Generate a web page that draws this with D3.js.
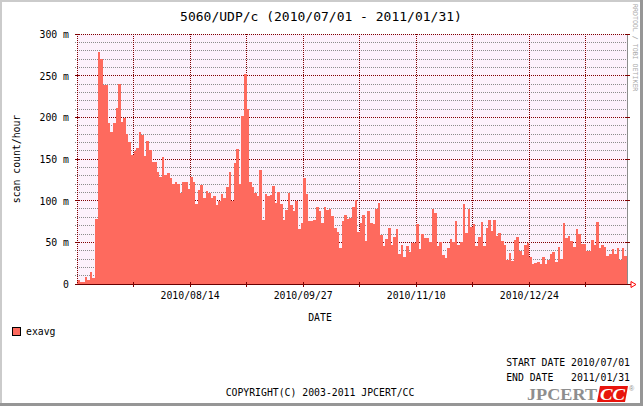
<!DOCTYPE html>
<html lang="en">
<head>
<meta charset="utf-8">
<script src="https://d3js.org/d3.v7.min.js"></script>
<style>
  body { margin: 0; background: #fff; }
  text { font-family: "DejaVu Sans Mono", monospace; fill: #000; }
</style>
</head>
<body>
<div id="chart"></div>
<script>

// daily averages, 2010/07/01 .. 2011/01/30 (scan count/hour, in milli)
const values = [
  5.2, 2, 2, 8.8, 4.4, 14.8, 6.8, 78.4, 279, 270,
  239, 239, 193.6, 183, 193.6, 211.6, 240, 195, 199.6, 179.6,
  170.4, 155, 159.6, 163, 183, 178.4, 154, 171.6, 161, 147,
  147, 135, 129, 152, 131, 133.6, 127.6, 120, 122.8, 120.4,
  108.8, 122.8, 122.4, 114, 128.4, 122.4, 96, 112.8, 118.8, 103.2,
  111.6, 109.2, 103.2, 105.6, 94.8, 99.2, 108, 103.2, 116.4, 134.4,
  99.2, 145.2, 162, 120, 201.6, 252, 210, 122.4, 116.4, 109.2,
  105.6, 136.8, 76.8, 108, 105.6, 106.8, 117.6, 97.2, 110.4, 96,
  76.8, 88.8, 109.2, 94.8, 88, 99.2, 66, 73.2, 127.6, 108.4,
  76, 76, 77.2, 92.8, 88, 73.6, 92.8, 89.2, 90.4, 82,
  67.6, 62.8, 43.6, 76, 83.2, 78.4, 79.6, 92.8, 101.2, 62.8,
  73.6, 83.2, 52, 88, 73.6, 72.4, 90.4, 97.6, 59.2, 46,
  54.4, 67.6, 47.2, 56.8, 66.4, 36.4, 47.2, 32.8, 46, 38.8,
  49.6, 49.6, 72.4, 42.4, 60, 55.6, 55.6, 50.8, 90.4, 85.6,
  46, 50.8, 35.2, 31.6, 43.6, 54.4, 50.8, 76, 47.2, 50.8,
  96.4, 61.6, 90.4, 68.8, 72.4, 46, 56.8, 74.8, 46, 67.6,
  77.2, 64, 77.2, 58, 61.6, 52, 47.2, 29.2, 37.6, 28,
  53.2, 56.8, 40, 35.2, 47.2, 49.6, 32.8, 24.4, 25.6, 26.8,
  24.4, 32.8, 24.4, 29.2, 36.4, 38.8, 26.8, 44.8, 30.4, 73.6,
  55.6, 58, 52, 44.8, 66.4, 60.4, 48.4, 48.4, 40, 40,
  53.2, 47.2, 74.8, 43.6, 47.2, 44.8, 34, 36.4, 42.4, 36.4,
  43.6, 29.2, 43.6, 34
];

const startDate = "2010-07-01";
const endDate = "2011-01-31";

// vertical grid every 22 days, labels on every second one
const xGridDates = ["2010-07-23", "2010-08-14", "2010-09-05", "2010-09-27", "2010-10-19",
                    "2010-11-10", "2010-12-02", "2010-12-24", "2011-01-15"];
const xLabelDates = ["2010-08-14", "2010-09-27", "2010-11-10", "2010-12-24"];
const xLabels = ["2010/08/14", "2010/09/27", "2010/11/10", "2010/12/24"];

const yMajor = [0, 50, 100, 150, 200, 250, 300];
const yLabels = ["0", "50 m", "100 m", "150 m", "200 m", "250 m", "300 m"];
const yMinor = d3.range(10, 300, 10).filter(v => v % 50 !== 0);

const W = 643, H = 406;
const plot = {left: 77, right: 627, top: 34, bottom: 284};
const barColor = "#fe6a5e";
const darkRed = "#800000";

const parse = d3.utcParse("%Y-%m-%d");
const t0 = parse(startDate), t1 = parse(endDate);

const x = d3.scaleUtc().domain([t0, t1]).range([plot.left, plot.right]);
const y = d3.scaleLinear().domain([0, 300]).range([plot.bottom, plot.top]);
const px = v => Math.floor(v) + 0.5;

const svg = d3.select("#chart").append("svg")
    .attr("width", W).attr("height", H)
    .attr("viewBox", `0 0 ${W} ${H}`);

// frame
svg.append("rect").attr("width", W).attr("height", H).attr("fill", "#fff");
svg.append("rect").attr("x", 0).attr("y", 0).attr("width", W).attr("height", 2).attr("fill", "#cbcbcb");
svg.append("rect").attr("x", 0).attr("y", 0).attr("width", 2).attr("height", H).attr("fill", "#cbcbcb");
svg.append("rect").attr("x", W - 3).attr("y", 0).attr("width", 3).attr("height", H).attr("fill", "#969696");
svg.append("rect").attr("x", 0).attr("y", H - 3).attr("width", W).attr("height", 3).attr("fill", "#969696");

// canvas
svg.append("rect")
    .attr("x", plot.left).attr("y", plot.top)
    .attr("width", plot.right - plot.left).attr("height", plot.bottom - plot.top)
    .attr("fill", "#fdf1fc");

const grid = svg.append("g").attr("shape-rendering", "crispEdges");

// minor horizontal grid
grid.selectAll(".minor").data(yMinor).enter().append("line")
    .attr("x1", plot.left - 2).attr("x2", plot.right + 2)
    .attr("y1", d => px(y(d))).attr("y2", d => px(y(d)))
    .attr("stroke", "#8c8c8c").attr("stroke-dasharray", "1,1");

// major horizontal grid
grid.selectAll(".major").data(yMajor.filter(v => v > 0)).enter().append("line")
    .attr("x1", plot.left - 2).attr("x2", plot.right + 3)
    .attr("y1", d => px(y(d))).attr("y2", d => px(y(d)))
    .attr("stroke", darkRed).attr("stroke-dasharray", "1,1");

// vertical grid
grid.selectAll(".vgrid").data(xGridDates.map(parse)).enter().append("line")
    .attr("x1", d => px(x(d))).attr("x2", d => px(x(d)))
    .attr("y1", plot.top).attr("y2", plot.bottom)
    .attr("stroke", darkRed).attr("stroke-dasharray", "1,1");

// the data, drawn as an rrd style step area
const pts = values.map((v, i) => ({t: d3.utcDay.offset(t0, i), v: v}));
pts.push({t: d3.utcDay.offset(t0, values.length), v: values[values.length - 1]});

svg.append("path")
    .datum(pts)
    .attr("fill", barColor)
    .attr("shape-rendering", "crispEdges")
    .attr("d", d3.area()
        .curve(d3.curveStepAfter)
        .x(d => x(d.t))
        .y0(px(y(0)))
        .y1(d => y(d.v)));

// axes and frame lines
const ax = svg.append("g").attr("shape-rendering", "crispEdges");
ax.append("line")
    .attr("x1", px(plot.left)).attr("x2", px(plot.left))
    .attr("y1", plot.top).attr("y2", plot.bottom)
    .attr("stroke", darkRed).attr("stroke-dasharray", "1,1");
ax.append("line")
    .attr("x1", px(plot.right)).attr("x2", px(plot.right))
    .attr("y1", plot.top).attr("y2", plot.bottom + 1)
    .attr("stroke", "#8c8c8c");
ax.selectAll(".ytick").data(yMajor).enter().append("line")
    .attr("x1", plot.left - 2).attr("x2", plot.left + 3)
    .attr("y1", d => px(y(d))).attr("y2", d => px(y(d)))
    .attr("stroke", darkRed);
ax.selectAll(".ytickr").data(yMajor.filter(v => v > 0)).enter().append("line")
    .attr("x1", plot.right - 2).attr("x2", plot.right + 3)
    .attr("y1", d => px(y(d))).attr("y2", d => px(y(d)))
    .attr("stroke", darkRed);
ax.append("line")
    .attr("x1", plot.left - 2).attr("x2", plot.right + 4)
    .attr("y1", px(y(0))).attr("y2", px(y(0)))
    .attr("stroke", "#6a0000");
ax.selectAll(".xtick").data(xGridDates.map(parse)).enter().append("line")
    .attr("x1", d => px(x(d))).attr("x2", d => px(x(d)))
    .attr("y1", plot.bottom - 2).attr("y2", plot.bottom + 3)
    .attr("stroke", darkRed);

// arrow at the end of the time axis
svg.append("path")
    .attr("d", `M${plot.right + 4},${px(y(0)) - 3} L${plot.right + 9},${px(y(0))} L${plot.right + 4},${px(y(0)) + 3} Z`)
    .attr("fill", "none").attr("stroke", "#ff0000").attr("stroke-width", 1);

// y labels
svg.selectAll(".ylab").data(yMajor).enter().append("text")
    .attr("x", 69).attr("y", d => y(d) + 4)
    .attr("text-anchor", "end")
    .style("font-size", "9.8px")
    .text((d, i) => yLabels[i]);

// x labels
svg.selectAll(".xlab").data(xLabelDates.map(parse)).enter().append("text")
    .attr("x", d => x(d)).attr("y", 299)
    .attr("text-anchor", "middle")
    .style("font-size", "9.8px")
    .text((d, i) => xLabels[i]);

// titles
svg.append("text").attr("x", 321).attr("y", 21).attr("text-anchor", "middle")
    .style("font-size", "13px")
    .text("5060/UDP/c (2010/07/01 - 2011/01/31)");
svg.append("text").attr("transform", "translate(20,159) rotate(-90)")
    .attr("text-anchor", "middle").style("font-size", "9.8px")
    .text("scan count/hour");
svg.append("text").attr("x", 320).attr("y", 321).attr("text-anchor", "middle")
    .style("font-size", "9.8px").text("DATE");
svg.append("text").attr("transform", "translate(633,4) rotate(90)")
    .style("font-size", "6.6px").style("fill", "#a8a8a8")
    .text("RRDTOOL / TOBI OETIKER");

// legend
svg.append("rect").attr("x", 12.5).attr("y", 327.5).attr("width", 8).attr("height", 8)
    .attr("fill", barColor).attr("stroke", "#000");
svg.append("text").attr("x", 26).attr("y", 335).style("font-size", "9.8px").text("exavg");

// footer
svg.append("text").attr("x", 630).attr("y", 366).attr("text-anchor", "end")
    .style("font-size", "9.8px").style("white-space", "pre").text("START DATE 2010/07/01");
svg.append("text").attr("x", 630).attr("y", 381).attr("text-anchor", "end")
    .style("font-size", "9.8px").style("white-space", "pre").text("END DATE   2011/01/31");
svg.append("text").attr("x", 320).attr("y", 396).attr("text-anchor", "middle")
    .style("font-size", "9.8px").text("COPYRIGHT(C) 2003-2011 JPCERT/CC");

// logo
const logo = svg.append("g");
logo.append("text").attr("x", 527).attr("y", 400)
    .attr("textLength", 70).attr("lengthAdjust", "spacingAndGlyphs")
    .style("font-family", "'Liberation Serif', serif").style("font-weight", "bold")
    .style("font-size", "16px").style("fill", "#8e8e8e").text("JPCERT");
logo.append("path").attr("d", "M600,386 L628,386 L625,402 L597,402 Z").attr("fill", "#e8140c");
logo.append("text").attr("x", 600).attr("y", 400)
    .attr("textLength", 25).attr("lengthAdjust", "spacingAndGlyphs")
    .style("font-family", "'Liberation Serif', serif").style("font-weight", "bold")
    .style("font-style", "italic").style("font-size", "16px").style("fill", "#fff").text("CC");
logo.append("text").attr("x", 629).attr("y", 391)
    .style("font-family", "'Liberation Sans', sans-serif").style("font-size", "7px")
    .style("fill", "#8e8e8e").text("®");

</script>
</body>
</html>
